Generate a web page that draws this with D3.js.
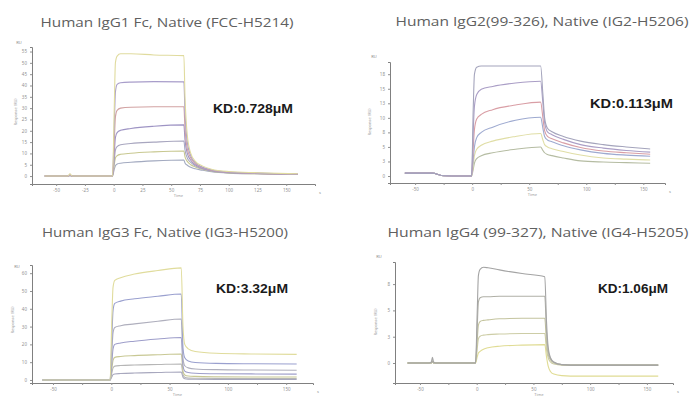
<!DOCTYPE html>
<html><head><meta charset="utf-8">
<script src="https://cdn.jsdelivr.net/npm/d3@7"></script>
<style>body{margin:0;background:#fff}svg{display:block}</style>
</head><body>
<script>
// ---------- Panel 1: IgG1 ----------
const p1Title = "Human IgG1 Fc, Native (FCC-H5214)";
const p1KD = "KD:0.728μM";
const p1Time = [-60, -40, -38, -36, -20, -1, 0.5, 1.5, 3, 6, 15, 35, 61, 62, 64, 67, 71, 77, 85, 100, 125, 160];
const p1Series = [
  [0, 0, 1.0, 0, 0, 0, 30, 50, 53, 54, 54, 53.5, 53.2, 35, 18, 10, 6.5, 4.5, 3, 2, 1.5, 1],
  [0, 0, 0.6, 0, 0, 0, 22, 37, 40.5, 41.2, 41.5, 41.7, 41.6, 28, 15, 9, 6, 4, 2.8, 1.8, 1.3, 0.9],
  [0, 0, 0.4, 0, 0, 0, 15, 26, 29, 30, 30.4, 30.6, 30.6, 21, 12, 8, 5.5, 3.8, 2.6, 1.7, 1.2, 0.9],
  [0, 0, 0.3, 0, 0, 0, 10, 17, 19.2, 20.2, 21, 22, 22.6, 16, 10, 7, 5, 3.5, 2.5, 1.6, 1.2, 0.9],
  [0, 0, 0.3, 0, 0, 0, 7, 11.5, 13, 13.8, 14.4, 15, 15.5, 11.5, 8, 6, 4.5, 3.2, 2.3, 1.5, 1.1, 0.8],
  [0, 0, 0.2, 0, 0, 0, 5, 8, 9, 9.6, 10.1, 10.7, 11.1, 8.5, 6.5, 5, 4, 3, 2.1, 1.4, 1, 0.7],
  [0, 0, 0.2, 0, 0, 0, 3, 4.6, 5.3, 5.7, 6.1, 6.7, 7.1, 5.8, 4.8, 3.9, 3.2, 2.6, 1.9, 1.3, 1, 0.7]
];
const p1Colors = ["#e0db9e", "#a89dca", "#d2a2a2", "#9e94c4", "#a8a6bf", "#c8c890", "#a3aac0"];
const p1XTicks = [-50, -25, 0, 25, 50, 75, 100, 125, 150];
const p1XLabels = [-50, -25, 0, 25, 50, 75, 100, 125, 150];
const p1YTicks = [0, 5, 10, 15, 20, 25, 30, 35, 40, 45, 50, 55];

// ---------- Panel 2: IgG2 ----------
const p2Title = "Human IgG2(99-326), Native (IG2-H5206)";
const p2KD = "KD:0.113μM";
const p2Time = [-59, -35, -25, -10, -0.5, 1, 2, 4, 8, 18, 38, 60, 62, 63.5, 66, 70, 80, 95, 115, 135, 156];
const p2Series = [
  [0.5, 0.5, 0.05, 0, 0, 12, 17.5, 18.7, 18.9, 18.9, 18.9, 18.9, 14, 10, 8.2, 7.6, 6.8, 6.0, 5.4, 5.0, 4.65],
  [0.5, 0.5, 0.05, 0, 0, 8, 12, 14, 14.9, 15.4, 16.0, 16.3, 12.5, 9.2, 7.6, 7.1, 6.3, 5.4, 4.8, 4.4, 4.1],
  [0.5, 0.5, 0.05, 0, 0, 5, 8, 9.8, 10.6, 11.4, 12.2, 12.7, 10, 7.8, 6.8, 6.4, 5.7, 4.9, 4.3, 4.0, 3.75],
  [0.5, 0.5, 0.05, 0, 0, 3, 5, 6.6, 7.5, 8.4, 9.6, 10.1, 8.2, 6.8, 6.2, 5.9, 5.2, 4.5, 3.9, 3.6, 3.4],
  [0.5, 0.5, 0.05, 0, 0, 2, 3.5, 4.6, 5.3, 6.0, 6.8, 7.3, 6.2, 5.4, 5.0, 4.7, 4.2, 3.6, 3.1, 2.9, 2.75],
  [0.5, 0.5, 0.05, 0, 0, 1.2, 2.2, 3.0, 3.5, 4.0, 4.6, 5.0, 4.4, 4.0, 3.7, 3.5, 3.1, 2.6, 2.4, 2.3, 2.2]
];
const p2Colors = ["#a4a4bc", "#aa9ec6", "#d99ea5", "#9eaad0", "#e0dea6", "#b5bca2"];
const p2XTicks = [-50, -25, 0, 25, 50, 75, 100, 125, 150];
const p2XLabels = [-50, 0, 50, 100, 150];
const p2YTicks = [0, 2.5, 5, 7.5, 10, 12.5, 15, 17.5];

// ---------- Panel 3: IgG3 ----------
const p3Title = "Human IgG3 Fc, Native (IG3-H5200)";
const p3KD = "KD:3.32μM";
const p3Time = [-59, -20, -1, 0.5, 1.5, 3, 8, 20, 40, 60, 61.5, 63, 66, 72, 90, 120, 159];
const p3Series = [
  [0, 0, 0, 35, 52, 56, 57.5, 59.5, 61.5, 63, 30, 20, 17.5, 16, 15, 14.6, 14.4],
  [0, 0, 0, 24, 39, 43, 44.3, 45.6, 47, 48.3, 18, 12.5, 10.7, 9.8, 9.3, 9.1, 9.0],
  [0, 0, 0, 16, 26.5, 29.5, 30.5, 31.5, 33, 34.3, 12, 8, 6.8, 6.2, 5.8, 5.6, 5.5],
  [0, 0, 0, 10, 17.5, 20, 20.8, 21.8, 23, 23.9, 8, 5, 4.2, 3.8, 3.5, 3.4, 3.3],
  [0, 0, 0, 6.5, 11, 12.7, 13.2, 13.7, 14.2, 14.6, 5, 2.8, 2.2, 2.0, 1.8, 1.7, 1.7],
  [0, 0, 0, 4, 6.8, 7.8, 8.1, 8.4, 8.7, 9.0, 3, 1.5, 1.1, 1.0, 0.9, 0.8, 0.8],
  [0, 0, 0, 1.8, 3, 3.4, 3.6, 3.9, 4.2, 4.5, 1.5, 0.7, 0.5, 0.4, 0.35, 0.3, 0.3]
];
const p3Colors = ["#e0dc9c", "#9aa0cf", "#afafbd", "#9e9eca", "#c8c894", "#b6b6b6", "#a8a8be"];
const p3XTicks = [-50, -25, 0, 25, 50, 75, 100, 125, 150];
const p3XLabels = [-50, 0, 50, 100, 150];
const p3YTicks = [0, 10, 20, 30, 40, 50, 60];

// ---------- Panel 4: IgG4 ----------
const p4Title = "Human IgG4 (99-327), Native (IG4-H5205)";
const p4KD = "KD:1.06μM";
const p4Time = [-61, -42, -40, -39, -38, -36, -20, -1, 0.5, 1.5, 3, 6, 10, 20, 40, 60, 61.5, 63, 65, 68, 75, 90, 120, 160];
const p4Series = [
  [0, 0, 0.1, 0.55, 0.1, 0, 0, 0, 5, 8.3, 8.9, 9.1, 9.05, 8.85, 8.5, 8.2, 4, 1.5, 0.5, 0.1, -0.15, -0.2, -0.2, -0.2],
  [0, 0, 0, 0.2, 0, 0, 0, 0, 3.5, 5.8, 6.2, 6.3, 6.3, 6.35, 6.35, 6.35, 3, 1.2, 0.4, 0.05, -0.15, -0.2, -0.2, -0.2],
  [0, 0, 0, 0.1, 0, 0, 0, 0, 2.2, 3.6, 3.95, 4.05, 4.1, 4.2, 4.25, 4.25, 2, 0.8, 0.3, 0, -0.15, -0.2, -0.2, -0.2],
  [0, 0, 0, 0.1, 0, 0, 0, 0, 1.4, 2.3, 2.55, 2.65, 2.7, 2.75, 2.8, 2.8, 1.3, 0.5, 0.1, -0.1, -0.2, -0.2, -0.2, -0.2],
  [0, 0, 0, 0.1, 0, 0, 0, 0, 0.6, 0.95, 1.1, 1.3, 1.45, 1.6, 1.7, 1.75, 0.6, -0.3, -0.8, -1.05, -1.2, -1.25, -1.25, -1.25]
];
const p4Colors = ["#a4a4a4", "#b0b0a6", "#c4c49e", "#cdcda6", "#e0dc94"];
const p4XTicks = [-50, -25, 0, 25, 50, 75, 100, 125, 150];
const p4XLabels = [-50, 0, 50, 100, 150];
const p4YTicks = [0, 2.5, 5, 7.5];

// ---------- layout ----------
const W = 690, H = 399;
const svg = d3.select("body").append("svg").attr("width", W).attr("height", H);

const panels = [
  {title: p1Title, kd: p1KD, time: p1Time, series: p1Series, colors: p1Colors, xt: p1XTicks, xl: p1XLabels, yt: p1YTicks,
   xr: [32, 315], xd: [-71, 175], yr: [184, 47], yd: [-3.5, 57],
   tx: 167, ty: 27, tw: 253, kx: 213, ky: 113, kw: 80, ru: [19, 44], ylab: [17, 112]},
  {title: p2Title, kd: p2KD, time: p2Time, series: p2Series, colors: p2Colors, xt: p2XTicks, xl: p2XLabels, yt: p2YTicks,
   xr: [390, 665], xd: [-72, 169], yr: [183, 62], yd: [-1.2, 19.6],
   tx: 542, ty: 26, tw: 293, kx: 590, ky: 108, kw: 83, ru: [374, 58], ylab: [371, 122]},
  {title: p3Title, kd: p3KD, time: p3Time, series: p3Series, colors: p3Colors, xt: p3XTicks, xl: p3XLabels, yt: p3YTicks,
   xr: [32, 313], xd: [-68, 173], yr: [383, 265], yd: [-1.7, 64.6],
   tx: 165, ty: 237, tw: 246, kx: 216, ky: 293, kw: 72, ru: [17, 268], ylab: [14, 320]},
  {title: p4Title, kd: p4KD, time: p4Time, series: p4Series, colors: p4Colors, xt: p4XTicks, xl: p4XLabels, yt: p4YTicks,
   xr: [395, 673], xd: [-72, 173], yr: [383, 262], yd: [-1.9, 9.6],
   tx: 538, ty: 237, tw: 301, kx: 598, ky: 293, kw: 70, ru: [379, 258], ylab: [377, 322]}
];

panels.forEach(p => {
  const g = svg.append("g");
  const x = d3.scaleLinear().domain(p.xd).range(p.xr);
  const y = d3.scaleLinear().domain(p.yd).range(p.yr);

  // title
  g.append("text").attr("x", p.tx).attr("y", p.ty).attr("text-anchor", "middle")
    .attr("font-family", "'Open Sans', 'Noto Sans', sans-serif").attr("font-size", 13)
    .attr("fill", "#606060").attr("textLength", p.tw).attr("lengthAdjust", "spacingAndGlyphs")
    .text(p.title);

  // curves
  const line = d3.line().x((d, i) => x(p.time[i])).y(d => y(d)).curve(d3.curveMonotoneX);
  p.series.slice().reverse().forEach((s, j) => {
    const idx = p.series.length - 1 - j;
    g.append("path").attr("d", line(s)).attr("fill", "none")
      .attr("stroke", p.colors[idx]).attr("stroke-width", 1.1);
  });

  // axes
  const xAxis = d3.axisBottom(x).tickValues(p.xt).tickSize(2)
    .tickFormat(d => p.xl.includes(d) ? d : "");
  const ax = g.append("g").attr("transform", `translate(0,${p.yr[0]})`).call(xAxis);
  const yAxis = d3.axisLeft(y).tickValues(p.yt).tickSize(2);
  const ay = g.append("g").attr("transform", `translate(${p.xr[0]},0)`).call(yAxis);
  [ax, ay].forEach(a => {
    a.select(".domain").attr("stroke", "#808080").attr("stroke-width", 1);
    a.selectAll(".tick line").attr("stroke", "#909090");
    a.selectAll("text").attr("fill", "#909090").attr("font-size", 4.5)
      .attr("font-family", "'Noto Sans', sans-serif");
  });

  // small axis titles
  g.append("text").attr("x", (p.xr[0] + p.xr[1]) / 2 + 5).attr("y", p.yr[0] + 13)
    .attr("text-anchor", "middle").attr("font-size", 4).attr("fill", "#999")
    .attr("font-family", "'Noto Sans', sans-serif").text("Time");
  g.append("text").attr("transform", `translate(${p.ylab[0]},${p.ylab[1]}) rotate(-90)`)
    .attr("text-anchor", "middle").attr("font-size", 4).attr("fill", "#999")
    .attr("font-family", "'Noto Sans', sans-serif").text("Response (RU)");
  g.append("text").attr("x", p.ru[0]).attr("y", p.ru[1]).attr("text-anchor", "middle")
    .attr("font-size", 4).attr("fill", "#888").attr("font-family", "'Noto Sans', sans-serif").text("RU");
  g.append("text").attr("x", p.xr[1] + 4).attr("y", p.yr[0] + 10).attr("font-size", 4)
    .attr("fill", "#888").attr("font-family", "'Noto Sans', sans-serif").text("s");

  // KD label
  g.append("text").attr("x", p.kx).attr("y", p.ky)
    .attr("font-family", "'Liberation Sans', Arial, sans-serif").attr("font-weight", "bold")
    .attr("font-size", 12).attr("fill", "#1a1a1a")
    .attr("textLength", p.kw).attr("lengthAdjust", "spacingAndGlyphs").text(p.kd);
});
</script>
</body></html>
